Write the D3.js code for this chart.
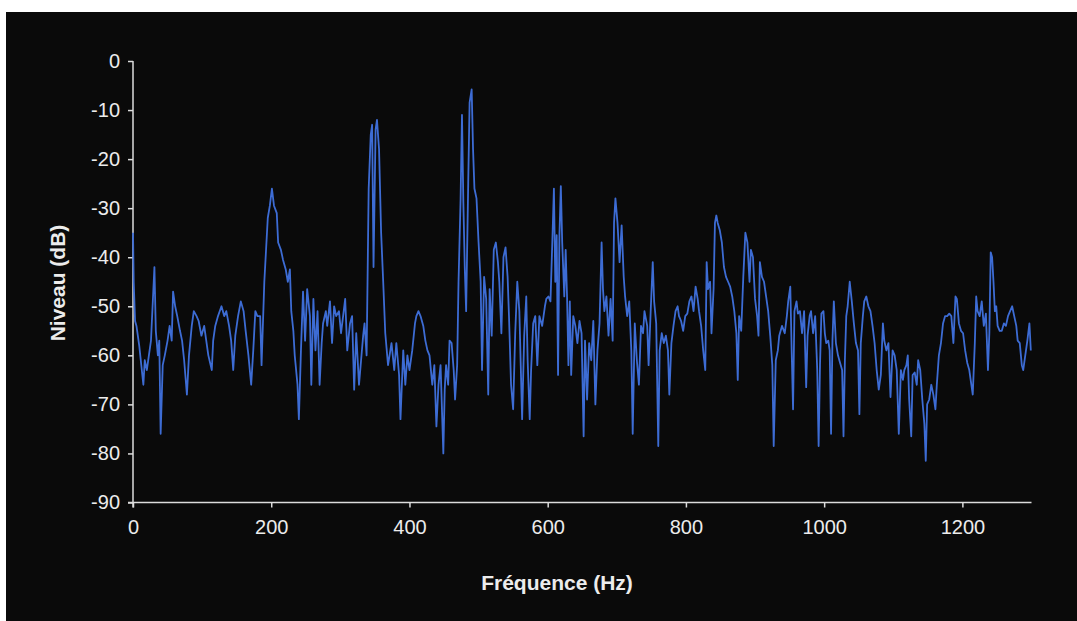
<!DOCTYPE html>
<html>
<head>
<meta charset="utf-8">
<script src="https://cdn.jsdelivr.net/npm/d3@7"></script>
<style>
  body { margin: 0; background: #fff; }
  text { font-family: "Liberation Sans", Arial, sans-serif; fill: #ececec; }
  .axis path, .axis line { stroke: #dcdcdc; stroke-width: 1.5; }
  .label { font-weight: bold; }
</style>
</head>
<body>
<div id="chart"></div>
<script>
// Spectrum: frequency (Hz) and level (dB)
var freqs = [0,1,3,5,9,12,15,17,20,23,26,31,33,36,38,40,43,46,50,53,56,58,61,64,68,71,74,78,81,85,88,92,95,99,103,106,109,114,116,119,123,128,132,135,139,142,145,148,152,156,160,163,167,171,174,177,
  180,184,186,190,195,198,201,204,208,210,214,217,221,224,227,229,232,234,238,240,243,246,249,252,256,258,261,264,267,270,273,275,279,281,285,288,291,294,298,301,304,307,310,314,317,320,323,327,330,333,335,338,341,344,346,348,351,353,356,359,362,365,369,
  374,378,381,385,387,391,394,397,400,404,408,410,413,416,420,423,426,429,433,436,439,442,445,449,451,453,456,458,461,464,466,469,471,474,476,478,480,482,485,487,490,492,494,497,500,503,505,508,511,514,516,519,522,525,528,530,533,536,539,542,544,547,550,553,556,559,
  561,563,566,569,571,574,576,579,582,585,588,592,596,598,601,604,607,609,611,613,615,617,619,621,624,626,628,630,632,634,637,640,643,646,649,652,654,657,660,663,666,669,672,675,678,680,682,685,688,691,694,696,698,701,704,707,710,712,715,718,721,723,726,729,732,735,738,740,744,746,
  749,752,754,757,760,762,765,768,771,774,776,779,782,785,788,790,793,796,799,802,805,808,811,814,817,819,822,825,828,830,832,835,837,840,842,844,846,849,852,855,858,861,864,867,870,873,875,877,880,883,886,889,892,894,897,900,903,905,907,910,913,916,919,922,925,927,930,933,935,
  939,943,946,948,951,953,955,957,960,962,965,968,971,974,976,979,981,984,987,990,992,994,996,999,1001,1003,1006,1008,1010,1012,1014,1017,1020,1023,1026,1028,1030,1032,1034,1037,1040,1043,1046,1049,1051,1053,1056,1058,1061,1064,1067,1070,1073,1076,1079,1082,1085,1087,1090,1093,1096,1099,1102,1105,1108,1111,1114,1116,1119,1121,
  1123,1126,1128,1131,1134,1136,1139,1142,1145,1147,1149,1152,1155,1158,1161,1163,1166,1169,1172,1175,1178,1181,1184,1187,1190,1192,1195,1198,1201,1204,1207,1210,1213,1215,1218,1220,1222,1225,1228,1231,1234,1237,1239,1241,1243,1245,1247,1249,1251,1254,1257,1260,1263,1266,1269,1272,1275,1278,1280,1283,1286,1288,1291,1294,1297,1299];

var levels = [-35,-45,-53,-54,-58,-62,-66,-61,-63,-60,-57,-42,-55,-60,-57,-76,-62,-60,-57,-54,-57,-47,-50,-52,-55,-57,-61,-68,-60,-54,-51,-52,-53,-56,-54,-57,-60,-63,-57,-54,-52,-50,-52,-51,-54,-57,-63,-56,-52,-49,-51,-55,-60,-66,-59,-51,
  -52,-52,-62,-45,-32,-29.5,-26,-29.5,-31,-37,-38.5,-40.5,-42.5,-45,-42.5,-51,-55,-60,-66,-73,-59,-47,-57,-46.5,-52,-66,-48.5,-59,-51,-66,-57.5,-53.5,-51,-54,-49,-57.5,-50,-52,-51,-55.5,-52,-48.5,-59,-53.5,-52,-67,-55.5,-66,-61,-56,-53.5,-60,-26,-15,-13,-42,-14,-12,-18,-35,-45,-55.5,-62,
  -57.5,-63,-57.5,-64,-73,-59,-66,-60,-63,-59,-53.5,-52,-51,-52,-54,-57,-59,-60,-66,-62,-74.5,-66,-62,-80,-67,-62,-66,-57,-57.5,-63,-69,-62,-45,-28,-11,-29,-42,-51,-25,-8.5,-5.8,-18,-26,-28,-37,-45,-63,-44,-48.5,-68,-46.5,-56,-38.5,-37,-41,-45,-55.5,-40,-38,-44,-52,-66,-71,-55.5,-45,-51,
  -62,-73,-56,-48,-61,-73,-63,-53.5,-52,-62,-52,-54,-50,-48.5,-48,-49,-35.5,-26,-45,-35.5,-64,-35.5,-25.5,-37,-48,-38.5,-48,-62,-49,-64,-52,-54,-57.5,-53,-55.5,-76.5,-57,-69,-57.5,-61,-53,-70,-59,-53.5,-37,-46.5,-51,-48,-56,-48.5,-57,-33,-28,-33,-41,-33.5,-44,-48,-52,-49,-59,-76,-53.5,-61,-66,-54,-55.5,-51,-54,-62,
  -51,-41,-49,-53.5,-78.5,-59,-55.5,-57.5,-56,-59,-68,-57.5,-54,-51,-50,-52,-53,-55,-52,-51.5,-49,-48,-51,-46,-48.5,-51,-54,-59,-63,-41,-46.5,-45,-55.5,-46.5,-33,-31.5,-33,-34.5,-37,-42,-44,-45,-46,-48,-51,-55.5,-65,-52,-55,-44,-35,-37,-45,-38.5,-40,-48.5,-52,-56,-41,-44,-45,-48,-51,-56,-62,-78.5,-61,-59,-56,
  -54,-55.5,-52,-49,-46,-59,-71,-51,-49,-51.5,-51,-55.5,-51,-66.5,-56,-52,-51,-55.5,-52,-63,-78.5,-62,-51.5,-51,-55.5,-57.5,-57,-59,-76,-57,-49,-57.5,-60,-61.5,-63,-76.5,-61,-52,-50,-45,-49,-53.5,-57.5,-59,-72,-57.5,-52,-49,-48,-50,-51,-54,-57.5,-63,-67,-64,-53.5,-57,-59,-57.5,-68.5,-59,-60,-63,-76,-63,-65,-63,-62,-60,
  -69,-76.5,-64,-63.5,-66,-61,-63,-69,-74,-81.5,-70,-69,-66,-68,-71,-66,-60,-57.5,-53.5,-52,-52,-51.5,-52,-57.5,-48,-48.5,-53.5,-55,-55.5,-59,-61.5,-63,-66,-68,-57.5,-48,-51,-52,-49,-54,-51.5,-63,-55.5,-39,-40,-45,-51,-50,-54,-55,-55,-53.5,-54,-52,-51,-50,-52,-54,-57,-57.5,-62,-63,-60,-57,-53.5,-59];

var xTicks = [0, 200, 400, 600, 800, 1000, 1200],
    yTicks = [0, -10, -20, -30, -40, -50, -60, -70, -80, -90];

var xTitle = "Fréquence (Hz)",
    yTitle = "Niveau (dB)";

var spectrum = freqs.map(function(f, i) { return {f: f, db: levels[i]}; });

var width = 1077, height = 621;

// Plot box in page pixels
var plot = {left: 133, right: 1031.5, top: 61, bottom: 502.5};

var xScale = d3.scaleLinear()
      .domain([0, 1300])
      .range([plot.left, plot.right]),
    yScale = d3.scaleLinear()
      .domain([-90, 0])
      .range([plot.bottom, plot.top]);

var svg = d3.select("#chart").append("svg")
    .attr("width", width)
    .attr("height", height);

// black panel, white margin top/left like the scan
svg.append("rect")
    .attr("x", 6)
    .attr("y", 12)
    .attr("width", width - 6)
    .attr("height", height - 12)
    .attr("fill", "#0a0a0a");

// plain hyphen for negatives, as in the original
function plain(d) { return String(d); }

var xAxis = d3.axisBottom(xScale)
    .tickValues(xTicks)
    .tickSize(5)
    .tickSizeOuter(0)
    .tickPadding(12)
    .tickFormat(plain);

var yAxis = d3.axisLeft(yScale)
    .tickValues(yTicks)
    .tickSize(5)
    .tickSizeOuter(0)
    .tickPadding(8)
    .tickFormat(plain);

var gx = svg.append("g")
    .attr("class", "x axis")
    .attr("transform", "translate(0," + plot.bottom + ")")
    .call(xAxis);

var gy = svg.append("g")
    .attr("class", "y axis")
    .attr("transform", "translate(" + plot.left + ",0)")
    .call(yAxis);

// Excel style: the two axis lines overshoot a little at the corner
gx.select(".domain").attr("d", "M" + (plot.left - 5) + ",0H" + plot.right);
gy.select(".domain").attr("d", "M0," + plot.top + "V" + (plot.bottom + 5));

svg.selectAll(".axis text")
    .attr("font-size", 20)
    .attr("fill", "#ececec");

// the spectrum trace
var line = d3.line()
    .x(function(d) { return xScale(d.f); })
    .y(function(d) { return yScale(d.db); });

svg.append("path")
    .datum(spectrum)
    .attr("fill", "none")
    .attr("stroke", "#3d6cd4")
    .attr("stroke-width", 1.8)
    .attr("stroke-linejoin", "round")
    .attr("d", line);

// axis titles
svg.append("text")
    .attr("class", "label")
    .attr("text-anchor", "middle")
    .attr("x", 557)
    .attr("y", 590)
    .attr("font-size", 21)
    .text(xTitle);

svg.append("text")
    .attr("class", "label")
    .attr("text-anchor", "middle")
    .attr("transform", "translate(65," + 283 + ") rotate(-90)")
    .attr("font-size", 21)
    .text(yTitle);
</script>
</body>
</html>
